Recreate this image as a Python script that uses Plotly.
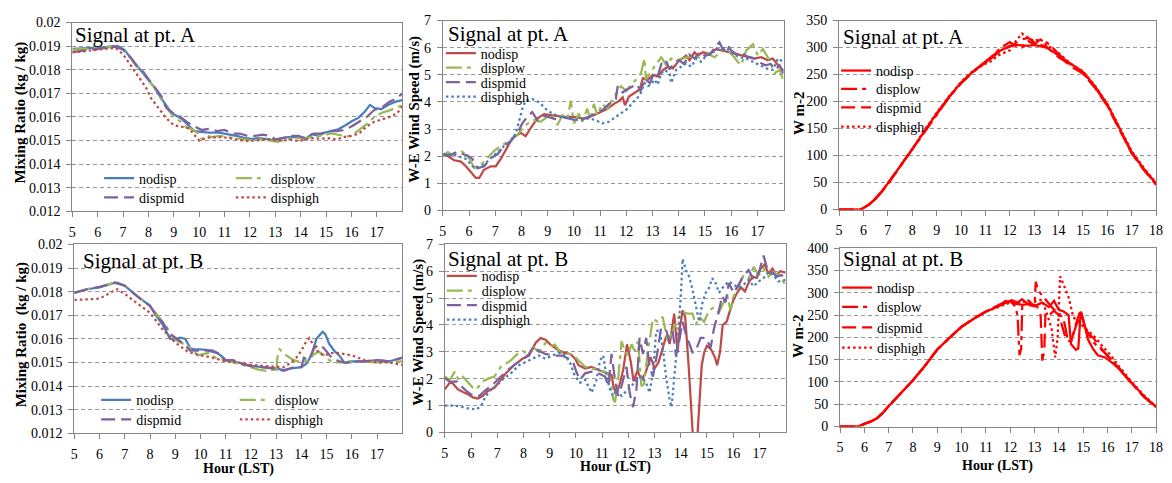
import plotly.graph_objects as go

# ---------------- data (hour, value) ----------------
MR_A_NODISP = [(5.0,0.01888),(5.55,0.0189),(6.2,0.01895),(6.6,0.0190),(6.8,0.0190),(7.05,0.01884),(7.31,0.0185),(7.5,0.01822),(7.77,0.01788),(8.03,0.01753),(8.23,0.01726),(8.42,0.01692),(8.62,0.01658),(8.82,0.0163),(9.01,0.0161),(9.27,0.01596),(9.54,0.01568),(9.8,0.01541),(10.06,0.01537),(10.39,0.01534),(10.78,0.01534),(11.04,0.01527),(11.3,0.01523),(11.56,0.01518),(11.82,0.0151),(12.08,0.01507),(12.35,0.0151),(12.6,0.01507),(12.87,0.01503),(13.13,0.01507),(13.39,0.01514),(13.65,0.01516),(13.92,0.01514),(14.18,0.01507),(14.44,0.01527),(14.7,0.0152),(14.96,0.01534),(15.22,0.01541),(15.48,0.01548),(15.75,0.01564),(16.01,0.01582),(16.27,0.01596),(16.53,0.01623),(16.73,0.01651),(16.92,0.01637),(17.18,0.01633),(17.44,0.01651),(17.71,0.01664),(18.0,0.01671)]
MR_A_DISPLOW = [(5.0,0.01885),(5.6,0.01888),(6.2,0.01893),(6.7,0.01898),(7.0,0.01885),(7.3,0.01848),(7.5,0.0182),(7.8,0.01785),(8.0,0.01758),(8.2,0.0173),(8.4,0.01695),(8.6,0.01655),(8.8,0.01628),(9.0,0.016),(9.3,0.01578),(9.5,0.01555),(9.7,0.0155),(9.9,0.01535),(10.1,0.01505),(10.3,0.0152),(10.5,0.01515),(10.8,0.0152),(11.1,0.01515),(11.4,0.0151),(11.7,0.01505),(12.0,0.01502),(12.3,0.01505),(12.6,0.01505),(12.9,0.01498),(13.1,0.01495),(13.4,0.01505),(13.7,0.0151),(14.0,0.0151),(14.3,0.01512),(14.6,0.0152),(14.9,0.01522),(15.2,0.0153),(15.5,0.01525),(15.8,0.01518),(16.0,0.0152),(16.3,0.01545),(16.6,0.0157),(16.9,0.016),(17.2,0.01618),(17.5,0.01628),(17.8,0.0164),(18.0,0.0165)]
MR_A_DISPMID = [(5.0,0.01875),(5.5,0.01882),(6.0,0.0189),(6.7,0.01898),(7.0,0.01885),(7.3,0.01852),(7.5,0.0182),(7.8,0.0179),(8.0,0.0176),(8.3,0.0172),(8.5,0.0169),(8.7,0.0164),(8.9,0.0162),(9.2,0.01605),(9.5,0.0158),(9.8,0.0156),(10.1,0.01545),(10.4,0.0155),(10.7,0.0154),(11.0,0.01545),(11.3,0.0153),(11.6,0.0153),(11.9,0.0152),(12.2,0.0152),(12.5,0.01525),(12.8,0.0152),(13.0,0.01505),(13.3,0.0151),(13.6,0.0152),(13.9,0.0152),(14.2,0.0151),(14.5,0.0153),(14.8,0.0153),(15.1,0.0154),(15.4,0.0154),(15.7,0.01545),(16.0,0.0156),(16.3,0.0158),(16.6,0.016),(16.9,0.0163),(17.2,0.0164),(17.5,0.01665),(17.8,0.0168),(18.0,0.017)]
MR_A_DISPHIGH = [(5.0,0.01873),(6.0,0.01885),(6.7,0.01893),(7.0,0.01865),(7.3,0.0182),(7.6,0.0177),(7.9,0.01725),(8.1,0.0168),(8.4,0.0164),(8.7,0.01595),(9.0,0.01565),(9.3,0.0156),(9.6,0.01552),(9.8,0.01525),(10.0,0.015),(10.3,0.01512),(10.6,0.01512),(10.9,0.01515),(11.2,0.0151),(11.5,0.01505),(11.8,0.01498),(12.1,0.015),(12.4,0.01503),(12.7,0.01505),(13.0,0.01502),(13.3,0.015),(13.6,0.01505),(13.9,0.01498),(14.2,0.01505),(14.5,0.0151),(14.8,0.01508),(15.1,0.0151),(15.4,0.01505),(15.7,0.01515),(16.0,0.0152),(16.3,0.0153),(16.6,0.0156),(16.9,0.0158),(17.2,0.0159),(17.5,0.016),(17.8,0.01615),(18.0,0.01645)]

WIND_A_NODISP = [(5.0,2.08),(5.2,2.0),(5.43,1.85),(5.69,1.8),(5.88,1.63),(6.07,1.4),(6.26,1.2),(6.39,1.2),(6.57,1.5),(6.83,1.63),(7.02,1.63),(7.21,1.9),(7.47,2.38),(7.66,2.68),(7.97,2.86),(8.16,2.74),(8.35,3.04),(8.6,3.39),(8.86,3.55),(9.18,3.51),(9.62,3.45),(10.0,3.45),(10.38,3.39),(10.76,3.51),(11.02,3.63),(11.28,3.75),(11.53,3.93),(11.7,4.02),(11.86,4.17),(11.95,3.88),(12.1,4.2),(12.25,4.29),(12.51,4.46),(12.63,4.88),(12.82,4.82),(13.01,5.0),(13.2,4.94),(13.4,5.18),(13.59,5.3),(13.78,5.24),(13.97,5.48),(14.16,5.62),(14.28,5.71),(14.41,5.54),(14.6,5.83),(14.73,5.71),(14.92,5.83),(15.17,5.77),(15.43,5.95),(15.68,5.89),(15.94,5.83),(16.19,5.77),(16.45,5.71),(16.7,5.65),(16.89,5.6),(17.14,5.65),(17.4,5.54),(17.59,5.6),(17.78,5.36),(18.0,5.15)]
WIND_A_DISPLOW = [(5.0,2.03),(5.19,2.15),(5.35,2.05),(5.56,2.15),(5.69,2.2),(5.9,2.05),(6.05,1.85),(6.2,1.56),(6.39,1.63),(6.7,1.93),(6.96,2.2),(7.21,2.38),(7.53,2.56),(7.85,2.8),(8.1,3.1),(8.3,3.25),(8.48,3.33),(8.73,3.27),(8.99,3.45),(9.15,3.5),(9.37,3.15),(9.56,3.51),(9.75,3.33),(9.88,4.05),(10.0,3.21),(10.19,3.57),(10.32,3.27),(10.51,3.75),(10.64,3.33),(10.76,3.93),(10.89,3.51),(11.08,3.93),(11.28,3.75),(11.47,4.11),(11.66,4.4),(11.8,4.58),(12.0,4.4),(12.18,4.64),(12.37,4.82),(12.56,5.06),(12.69,5.6),(12.75,4.82),(12.94,5.12),(13.13,5.36),(13.33,5.65),(13.52,5.36),(13.71,5.6),(13.9,5.48),(14.1,5.6),(14.35,5.65),(14.6,5.71),(14.86,5.6),(15.11,5.77),(15.37,5.65),(15.56,5.83),(15.81,5.95),(16.06,5.71),(16.25,5.48),(16.38,5.36),(16.57,5.89),(16.83,6.13),(17.02,5.71),(17.21,5.95),(17.46,5.54),(17.65,5.06),(17.85,5.18),(18.0,4.76)]
WIND_A_DISPMID = [(5.0,2.08),(5.25,2.03),(5.5,2.15),(5.75,2.08),(5.94,2.03),(6.13,1.9),(6.33,1.56),(6.58,1.63),(6.83,1.93),(7.09,2.08),(7.34,2.38),(7.6,2.56),(7.85,2.86),(8.03,3.21),(8.22,3.45),(8.41,3.63),(8.6,3.33),(8.79,3.51),(9.05,3.45),(9.3,3.37),(9.56,3.45),(9.8,3.39),(10.06,3.33),(10.32,3.37),(10.57,3.45),(10.83,3.57),(11.08,3.69),(11.34,3.93),(11.6,4.11),(11.67,4.58),(11.86,4.35),(12.0,4.45),(12.2,4.55),(12.4,4.65),(12.55,4.4),(12.7,4.85),(12.9,4.7),(13.05,5.05),(13.2,4.95),(13.35,5.45),(13.5,5.55),(13.65,5.2),(13.8,5.4),(14.0,5.55),(14.2,5.4),(14.4,5.75),(14.6,5.6),(14.8,5.85),(15.0,5.7),(15.2,5.75),(15.4,6.05),(15.55,6.2),(15.7,5.9),(15.85,6.1),(16.0,5.9),(16.2,5.75),(16.4,5.85),(16.55,5.7),(16.7,5.65),(16.9,5.6),(17.1,5.45),(17.3,5.35),(17.5,5.4),(17.7,5.2),(17.85,5.35),(18.0,5.05)]
WIND_A_DISPHIGH = [(5.0,2.08),(5.5,2.03),(5.88,1.9),(6.13,1.63),(6.33,1.56),(6.58,1.69),(6.83,1.93),(7.09,2.15),(7.34,2.38),(7.6,2.56),(7.79,2.86),(7.92,3.33),(8.05,3.81),(8.16,4.05),(8.41,4.11),(8.67,3.99),(8.92,3.75),(9.18,3.57),(9.5,3.45),(9.8,3.39),(10.19,3.33),(10.57,3.39),(10.83,3.33),(11.08,3.21),(11.34,3.27),(11.6,3.45),(11.86,3.63),(12.05,3.75),(12.25,3.99),(12.44,4.17),(12.56,4.35),(12.69,4.7),(12.82,4.58),(12.94,4.64),(13.07,4.82),(13.2,4.64),(13.33,5.06),(13.46,5.18),(13.65,5.06),(13.71,4.7),(13.9,5.18),(14.1,5.3),(14.28,5.42),(14.48,5.3),(14.67,5.6),(14.86,5.48),(15.05,5.71),(15.3,5.83),(15.56,5.95),(15.81,6.01),(16.06,5.77),(16.31,5.65),(16.57,5.6),(16.83,5.48),(17.08,5.36),(17.34,5.24),(17.59,5.18),(17.78,5.6),(18.0,5.48)]

RAD_A_HOURS = [5, 5.5, 5.9, 6.25, 6.5, 6.75, 7, 7.5, 8, 8.5, 9, 9.5, 10, 10.5, 11, 11.25, 11.5, 11.75, 12, 12.25, 12.5, 12.75, 13, 13.25, 13.5, 13.75, 14, 14.25, 14.5, 15, 15.5, 16, 16.5, 17, 17.5, 18]
RAD_A_NODISP = [0, 0, 0, 10, 20, 33, 48, 80, 112, 146, 178, 208, 235, 256, 275, 283, 292, 298, 303, 305, 304, 303, 305, 303, 300, 293, 285, 278, 270, 255, 228, 195, 150, 106, 75, 48]
RAD_A_DISPLOW = [0, 0, 0, 10, 20, 33, 47, 79, 111, 145, 177, 207, 234, 255, 272, 282, 294, 303, 310, 303, 300, 312, 306, 315, 310, 300, 288, 278, 268, 253, 226, 193, 148, 105, 74, 47]
RAD_A_DISPMID = [0, 0, 0, 10, 21, 34, 48, 80, 112, 146, 178, 208, 234, 255, 273, 280, 290, 297, 302, 308, 315, 318, 310, 305, 302, 292, 282, 275, 265, 252, 225, 192, 147, 104, 73, 46]
RAD_A_DISPHIGH = [0, 0, 0, 10, 20, 33, 48, 80, 112, 147, 179, 209, 236, 257, 270, 275, 285, 290, 295, 312, 326, 318, 312, 316, 305, 298, 290, 280, 270, 256, 229, 196, 152, 108, 77, 49]

MR_B_NODISP = [(5.0,0.01795),(5.5,0.0181),(6.0,0.01818),(6.5,0.01835),(6.7,0.01838),(7.0,0.01825),(7.5,0.0178),(8.0,0.0174),(8.3,0.0169),(8.5,0.0166),(8.8,0.016),(9.0,0.01598),(9.2,0.01605),(9.4,0.016),(9.6,0.0156),(9.8,0.01555),(10.0,0.01555),(10.5,0.0155),(10.8,0.0153),(11.0,0.01508),(11.5,0.015),(12.0,0.01485),(12.5,0.0148),(13.0,0.01475),(13.3,0.01468),(13.6,0.01475),(14.0,0.0148),(14.2,0.01495),(14.4,0.0153),(14.5,0.0157),(14.6,0.016),(14.84,0.0163),(14.95,0.0162),(15.1,0.0158),(15.3,0.0155),(15.5,0.0153),(15.7,0.015),(16.0,0.01505),(16.5,0.01505),(17.0,0.0151),(17.5,0.01505),(18.0,0.0152)]
MR_B_DISPLOW = [(5.0,0.01795),(5.5,0.0181),(6.0,0.0182),(6.6,0.01838),(7.0,0.01825),(7.5,0.0178),(8.0,0.0174),(8.3,0.017),(8.6,0.0166),(8.9,0.0161),(9.1,0.0159),(9.3,0.0158),(9.5,0.0157),(9.7,0.0155),(9.9,0.0153),(10.3,0.0154),(10.6,0.0152),(11.0,0.0151),(11.5,0.01495),(12.0,0.0148),(12.3,0.0147),(12.6,0.01465),(12.9,0.0147),(13.0,0.01455),(13.05,0.0152),(13.14,0.01556),(13.4,0.0153),(13.7,0.0151),(14.0,0.015),(14.3,0.0151),(14.5,0.01535),(14.7,0.01545),(14.9,0.0153),(15.1,0.0151),(15.3,0.015),(15.6,0.01502),(16.0,0.015),(16.5,0.01503),(17.0,0.015),(17.5,0.01502),(18.0,0.01505)]
MR_B_DISPMID = [(5.0,0.01795),(5.5,0.0181),(6.0,0.0182),(6.6,0.01838),(7.0,0.01825),(7.5,0.0178),(8.0,0.0174),(8.3,0.0169),(8.5,0.0167),(8.8,0.0162),(9.2,0.0159),(9.6,0.0155),(10.0,0.0155),(10.3,0.0155),(10.7,0.0154),(11.0,0.0151),(11.3,0.0151),(11.6,0.01495),(12.0,0.01485),(12.5,0.0148),(13.0,0.01473),(13.3,0.01465),(13.7,0.0148),(14.0,0.0148),(14.1,0.0152),(14.3,0.0151),(14.5,0.0156),(14.7,0.01576),(14.9,0.0156),(15.2,0.0152),(15.5,0.01505),(15.8,0.01498),(16.0,0.01505),(16.5,0.01505),(17.0,0.0151),(17.5,0.01505),(18.0,0.0152)]
MR_B_DISPHIGH = [(5.0,0.01765),(5.5,0.01768),(6.0,0.0177),(6.5,0.018),(6.7,0.0181),(7.0,0.0179),(7.5,0.0175),(8.0,0.0171),(8.5,0.0164),(9.0,0.01585),(9.5,0.01545),(10.0,0.0153),(10.5,0.0152),(11.0,0.01505),(11.5,0.015),(12.0,0.0149),(12.5,0.01485),(13.0,0.0148),(13.3,0.0148),(13.6,0.015),(13.8,0.0152),(14.0,0.0155),(14.2,0.0159),(14.32,0.01603),(14.5,0.0157),(14.7,0.0154),(14.9,0.0153),(15.2,0.0154),(15.5,0.0154),(16.0,0.0153),(16.5,0.0151),(17.0,0.015),(17.5,0.015),(18.0,0.0149)]

WIND_B_NODISP = [(5.0,1.6),(5.19,1.85),(5.3,1.83),(5.5,1.6),(5.69,1.5),(5.88,1.42),(6.07,1.3),(6.26,1.26),(6.45,1.36),(6.64,1.54),(6.89,1.66),(7.08,1.9),(7.33,2.2),(7.64,2.5),(7.96,2.74),(8.21,2.86),(8.46,3.33),(8.65,3.51),(8.84,3.45),(9.03,3.27),(9.28,3.09),(9.53,2.97),(9.79,2.92),(9.97,2.74),(10.1,2.5),(10.35,2.38),(10.6,2.44),(10.86,2.32),(11.11,2.22),(11.36,2.14),(11.43,1.72),(11.55,1.42),(11.68,1.84),(11.8,2.3),(11.95,3.28),(12.1,2.6),(12.2,1.9),(12.35,2.3),(12.5,1.95),(12.65,2.2),(12.85,2.8),(13.0,2.38),(13.15,2.6),(13.3,3.1),(13.45,3.6),(13.58,3.3),(13.75,4.42),(13.88,2.98),(13.95,3.8),(14.07,4.54),(14.17,4.3),(14.3,2.5),(14.4,0.5),(14.48,-0.4),(14.62,-0.4),(14.7,1.0),(14.8,2.5),(14.9,3.0),(15.0,3.22),(15.15,3.1),(15.3,2.8),(15.39,2.5),(15.5,3.0),(15.6,4.0),(15.75,4.12),(15.9,4.6),(16.02,4.96),(16.15,5.2),(16.3,5.4),(16.45,5.25),(16.6,5.6),(16.75,5.8),(16.9,5.75),(17.05,6.1),(17.2,6.25),(17.35,5.9),(17.5,6.1),(17.65,5.85),(17.8,6.0),(18.0,5.95)]
WIND_B_DISPLOW = [(5.0,2.08),(5.19,1.95),(5.38,2.26),(5.5,2.0),(5.63,2.14),(5.88,1.85),(6.07,1.66),(6.2,1.6),(6.45,1.9),(6.7,2.02),(6.89,2.08),(7.14,2.44),(7.33,2.56),(7.52,2.68),(7.77,2.92),(7.96,3.03),(8.21,2.92),(8.4,3.15),(8.6,3.0),(8.84,3.33),(9.03,3.21),(9.2,3.27),(9.41,2.97),(9.72,2.92),(9.91,2.86),(10.1,2.68),(10.35,2.44),(10.6,2.38),(10.86,2.32),(11.11,2.26),(11.3,2.08),(11.42,1.25),(11.49,1.12),(11.61,1.96),(11.74,3.4),(11.87,3.04),(11.99,2.86),(12.12,3.28),(12.24,3.04),(12.37,3.4),(12.5,1.72),(12.6,1.8),(12.75,3.04),(12.94,4.24),(13.12,4.12),(13.31,4.3),(13.5,3.4),(13.69,3.76),(13.88,4.24),(14.07,4.48),(14.26,4.42),(14.45,4.42),(14.57,4.0),(14.7,4.3),(14.89,4.12),(15.08,4.54),(15.27,4.66),(15.46,4.48),(15.64,4.84),(15.77,5.14),(15.9,4.54),(16.02,5.08),(16.21,5.44),(16.4,5.86),(16.59,5.74),(16.78,6.16),(16.97,5.86),(17.16,6.1),(17.35,5.8),(17.53,5.98),(17.72,5.86),(18.0,5.5)]
WIND_B_DISPMID = [(5.0,2.02),(5.2,1.88),(5.44,1.9),(5.63,1.72),(5.82,1.54),(6.07,1.36),(6.32,1.36),(6.51,1.54),(6.83,1.78),(7.14,2.08),(7.4,2.32),(7.71,2.56),(8.02,2.74),(8.21,2.92),(8.4,3.21),(8.59,3.03),(8.84,2.92),(9.16,2.86),(9.47,2.86),(9.72,2.74),(9.91,2.56),(10.04,2.2),(10.16,1.96),(10.35,2.2),(10.6,2.26),(10.86,2.2),(11.11,2.08),(11.24,1.72),(11.36,2.92),(11.49,1.96),(11.61,1.36),(11.74,1.72),(11.93,2.44),(12.05,1.48),(12.18,0.94),(12.31,1.6),(12.43,3.52),(12.56,2.92),(12.68,3.52),(12.81,2.44),(12.94,2.08),(13.12,3.04),(13.25,3.88),(13.44,3.82),(13.57,3.4),(13.69,3.76),(13.82,2.86),(13.94,3.4),(14.07,4.12),(14.2,3.64),(14.32,3.28),(14.45,2.98),(14.57,3.04),(14.76,3.52),(14.95,3.52),(15.14,3.16),(15.27,3.88),(15.46,4.54),(15.58,5.08),(15.71,4.84),(15.83,5.56),(16.02,5.2),(16.21,5.5),(16.4,5.86),(16.59,6.04),(16.78,5.68),(16.97,5.92),(17.16,6.58),(17.28,6.16),(17.47,5.98),(17.66,5.8),(17.85,5.86),(18.0,5.68)]
WIND_B_DISPHIGH = [(5.0,1.0),(5.3,1.0),(5.57,0.97),(5.82,0.9),(6.0,0.88),(6.2,0.85),(6.39,1.0),(6.51,1.25),(6.7,1.54),(6.95,1.72),(7.2,1.96),(7.52,2.2),(7.83,2.5),(8.08,2.62),(8.34,2.74),(8.59,2.86),(8.84,2.74),(9.09,2.86),(9.35,2.97),(9.6,2.86),(9.79,2.56),(9.97,2.08),(10.16,1.85),(10.35,1.96),(10.48,1.72),(10.6,1.48),(10.79,1.96),(10.92,2.68),(11.04,2.86),(11.17,2.08),(11.3,1.6),(11.42,1.36),(11.55,1.6),(11.74,1.36),(11.93,1.54),(12.12,1.72),(12.31,1.96),(12.5,2.08),(12.68,1.84),(12.81,1.48),(12.94,2.2),(13.06,3.76),(13.19,3.82),(13.31,3.16),(13.44,2.08),(13.57,1.24),(13.65,0.94),(13.75,1.96),(13.88,3.4),(14.01,5.2),(14.07,6.46),(14.2,6.04),(14.32,5.8),(14.45,5.32),(14.57,4.72),(14.7,4.12),(14.83,4.84),(14.95,5.2),(15.08,5.38),(15.2,5.74),(15.33,5.56),(15.46,5.2),(15.64,5.44),(15.83,5.62),(16.02,5.5),(16.21,5.38),(16.4,5.5),(16.59,5.68),(16.78,5.44),(16.97,5.62),(17.16,5.74),(17.35,5.98),(17.53,5.86),(17.72,5.62),(18.0,5.68)]

RAD_B_NODISP = [(5,0),(5.5,0),(5.75,0),(6,6),(6.25,11),(6.5,18),(6.75,30),(7,46),(7.5,75),(8,104),(8.5,137),(9,173),(9.5,199),(10,224),(10.5,242),(11,258),(11.3,265),(11.6,272),(11.8,282),(12.0,280),(12.2,276),(12.5,273),(12.8,275),(13.0,270),(13.3,278),(13.6,268),(13.8,282),(14.0,262),(14.2,258),(14.4,250),(14.5,185),(14.7,172),(14.8,175),(14.9,258),(15.0,240),(15.2,195),(15.4,175),(15.6,160),(15.9,155),(16.2,143),(16.5,128),(17.0,97),(17.5,68),(18.0,44)]
RAD_B_DISPLOW = [(5,0),(5.5,0),(5.75,0),(6,6),(6.25,11),(6.5,18),(6.75,30),(7,46),(7.5,75),(8,104),(8.5,137),(9,173),(9.5,199),(10,224),(10.5,242),(11,258),(11.5,270),(11.8,278),(12.0,282),(12.2,270),(12.3,250),(12.38,160),(12.45,175),(12.5,285),(12.8,272),(13.0,270),(13.05,325),(13.15,305),(13.3,295),(13.6,275),(13.8,262),(14.0,255),(14.2,240),(14.35,200),(14.5,190),(14.7,225),(14.9,250),(15.1,220),(15.4,190),(15.7,175),(16.0,160),(16.5,128),(17.0,96),(17.5,67),(18.0,43)]
RAD_B_DISPMID = [(5,0),(5.5,0),(5.75,0),(6,6),(6.25,11),(6.5,18),(6.75,30),(7,46),(7.5,75),(8,104),(8.5,137),(9,173),(9.5,199),(10,224),(10.5,242),(11,258),(11.5,272),(12.0,285),(12.3,278),(12.6,290),(12.9,275),(13.1,270),(13.25,250),(13.32,148),(13.4,170),(13.45,255),(13.6,250),(13.8,260),(14.0,250),(14.3,195),(14.5,190),(14.7,230),(14.9,262),(15.1,215),(15.4,200),(15.7,180),(16.0,158),(16.5,130),(17.0,97),(17.5,67),(18.0,44)]
RAD_B_DISPHIGH = [(5,0),(5.5,0),(5.75,0),(6,6),(6.25,11),(6.5,18),(6.75,30),(7,46),(7.5,75),(8,104),(8.5,137),(9,173),(9.5,199),(10,224),(10.5,242),(11,258),(11.5,268),(12.0,278),(12.5,280),(13.0,280),(13.3,285),(13.5,255),(13.7,220),(13.85,155),(13.95,200),(14.05,337),(14.2,318),(14.4,290),(14.6,245),(14.9,230),(15.2,215),(15.5,200),(15.8,180),(16.1,162),(16.5,133),(17.0,100),(17.5,70),(18.0,45)]

SERIES_NAMES = ["nodisp", "displow", "dispmid", "disphigh"]
TITLES = ["Signal at pt. A", "Signal at pt. A", "Signal at pt. A",
          "Signal at pt. B", "Signal at pt. B", "Signal at pt. B"]
YTITLES = ["Mixing Ratio (kg / kg)", "W-E Wind Speed (m/s)", "W m-2",
           "Mixing Ratio  (kg / kg)", "W-E Wind Speed (m/s)", "W m-2"]
XTITLE = "Hour (LST)"
MR_TICKS = [0.012, 0.013, 0.014, 0.015, 0.016, 0.017, 0.018, 0.019, 0.02]
MR_TICKTEXT = ["0.012", "0.013", "0.014", "0.015", "0.016", "0.017", "0.018", "0.019", "0.02"]
HOUR_TICKS_17 = list(range(5, 18))
HOUR_TICKS_18 = list(range(5, 19))

# ---------------- styling ----------------
W, H = 1172, 483
FONT = "Liberation Serif"
BLUE, RED, GREEN, PURPLE, PURE_RED = "#4a7ebb", "#be4b48", "#98b954", "#7d60a0", "#ff0000"
DASHES = ["solid", "16px,5px,4px,5px", "14px,6px", "2.5px,3px"]
LW = 2.25

# plot areas in pixels: (left, right, top, bottom)
AREAS = [(69, 402, 16, 211), (443, 787, 14, 210), (843, 1163, 14, 209),
         (71, 402, 245, 440), (445, 789, 245, 439), (844, 1163, 249, 433)]

def unzip(pairs):
    return [p[0] for p in pairs], [p[1] for p in pairs]

panel_series = [
    [(unzip(MR_A_NODISP), BLUE), (unzip(MR_A_DISPLOW), GREEN), (unzip(MR_A_DISPMID), PURPLE), (unzip(MR_A_DISPHIGH), RED)],
    [(unzip(WIND_A_NODISP), RED), (unzip(WIND_A_DISPLOW), GREEN), (unzip(WIND_A_DISPMID), PURPLE), (unzip(WIND_A_DISPHIGH), BLUE)],
    [((RAD_A_HOURS, RAD_A_NODISP), PURE_RED), ((RAD_A_HOURS, RAD_A_DISPLOW), PURE_RED), ((RAD_A_HOURS, RAD_A_DISPMID), PURE_RED), ((RAD_A_HOURS, RAD_A_DISPHIGH), PURE_RED)],
    [(unzip(MR_B_NODISP), BLUE), (unzip(MR_B_DISPLOW), GREEN), (unzip(MR_B_DISPMID), PURPLE), (unzip(MR_B_DISPHIGH), RED)],
    [(unzip(WIND_B_NODISP), RED), (unzip(WIND_B_DISPLOW), GREEN), (unzip(WIND_B_DISPMID), PURPLE), (unzip(WIND_B_DISPHIGH), BLUE)],
    [(unzip(RAD_B_NODISP), PURE_RED), (unzip(RAD_B_DISPLOW), PURE_RED), (unzip(RAD_B_DISPMID), PURE_RED), (unzip(RAD_B_DISPHIGH), PURE_RED)],
]

# legend item anchor (line start px, centre y px) for each panel / series
LEGEND_POS = [
    [(101, 177), (234, 177), (101, 197), (234, 197)],
    [(446, 48), (446, 63), (446, 78), (446, 93)],
    [(845, 66), (845, 85), (845, 104), (845, 124)],
    [(98, 406), (238, 406), (98, 426), (238, 426)],
    [(447, 278), (447, 293), (447, 308), (447, 323)],
    [(846, 290), (846, 310), (846, 331), (846, 352)],
]
TITLE_POS = [(70, 29), (446, 28), (845, 31), (78, 262), (446, 260), (845, 260)]
YTITLE_POS = [(17, 109), (415, 106), (802, 110), (18, 338), (418, 336), (802, 340)]
XTITLE_POS = [None, None, None, (237, 477), (617, 475), (1003, 474)]
YRANGES = [(0.012, 0.02), (0, 7), (0, 350), (0.012, 0.02), (0, 7), (0, 400)]

fig = go.Figure()
layout = dict(width=W, height=H, margin=dict(l=0, r=0, t=0, b=0),
              paper_bgcolor="white", plot_bgcolor="white", showlegend=True,
              font=dict(family=FONT, size=14, color="black"))
annotations = []
leg_n = 0
for i in range(6):
    ax = "" if i == 0 else str(i + 1)
    l, r, t, b = AREAS[i]
    for j, ((xs, ys), color) in enumerate(panel_series[i]):
        leg_n += 1
        lid = "legend" if leg_n == 1 else f"legend{leg_n}"
        fig.add_trace(go.Scatter(
            x=xs, y=ys, mode="lines", name=SERIES_NAMES[j],
            line=dict(color=color, width=LW, dash=DASHES[j]),
            xaxis="x" + ax, yaxis="y" + ax, legend=lid, showlegend=True))
        lx, ly = LEGEND_POS[i][j]
        layout[lid] = dict(x=(lx - 5) / W, y=1 - ly / H, xanchor="left", yanchor="middle",
                           xref="paper", yref="paper",
                           bgcolor="rgba(0,0,0,0)", borderwidth=0, itemwidth=30,
                           font=dict(family=FONT, size=14, color="black"),
                           itemclick=False, itemdoubleclick=False)
    xt = HOUR_TICKS_18 if i in (2, 5) else HOUR_TICKS_17
    layout["xaxis" + ax] = dict(
        domain=[l / W, r / W], anchor="y" + ax, range=[5, 18],
        tickvals=xt, ticks="outside", ticklen=5, tickcolor="#868686",
        ticklabelstandoff=3,
        showline=True, linecolor="#868686", linewidth=1, mirror=True,
        showgrid=False, zeroline=False,
        tickfont=dict(family=FONT, size=14, color="black"))
    ylo, yhi = YRANGES[i]
    yax = dict(
        domain=[1 - b / H, 1 - t / H], anchor="x" + ax, range=[ylo, yhi],
        ticks="outside", ticklen=5, tickcolor="#868686",
        ticklabelstandoff=3,
        showline=True, linecolor="#868686", linewidth=1, mirror=True,
        showgrid=True, gridcolor="#9a9a9a", gridwidth=1, griddash="4px,3px", zeroline=False,
        tickfont=dict(family=FONT, size=14, color="black"))
    if i in (0, 3):
        yax.update(tickvals=MR_TICKS, ticktext=MR_TICKTEXT)
    else:
        yax.update(dtick=1 if i in (1, 4) else 50, tick0=0)
    layout["yaxis" + ax] = yax
    tx, ty = TITLE_POS[i]
    annotations.append(dict(text=TITLES[i], x=tx / W, y=1 - ty / H, xref="paper", yref="paper",
                            xanchor="left", yanchor="middle", showarrow=False,
                            font=dict(family=FONT, size=21, color="black")))
    yx, yy = YTITLE_POS[i]
    annotations.append(dict(text="<b>" + YTITLES[i] + "</b>", x=yx / W, y=1 - yy / H,
                            xref="paper", yref="paper", xanchor="center", yanchor="middle",
                            textangle=-90, showarrow=False,
                            font=dict(family=FONT, size=15, color="black")))
    if XTITLE_POS[i]:
        xx, xy = XTITLE_POS[i]
        annotations.append(dict(text="<b>" + XTITLE + "</b>", x=xx / W, y=1 - xy / H,
                                xref="paper", yref="paper", xanchor="center", yanchor="middle",
                                borderpad=0, showarrow=False,
                                font=dict(family=FONT, size=14, color="black")))

layout["annotations"] = annotations
fig.update_layout(**layout)
fig.write_html("out.html", config={"displayModeBar": False},
               post_script="document.body.style.margin='0';document.body.style.overflow='hidden';")
